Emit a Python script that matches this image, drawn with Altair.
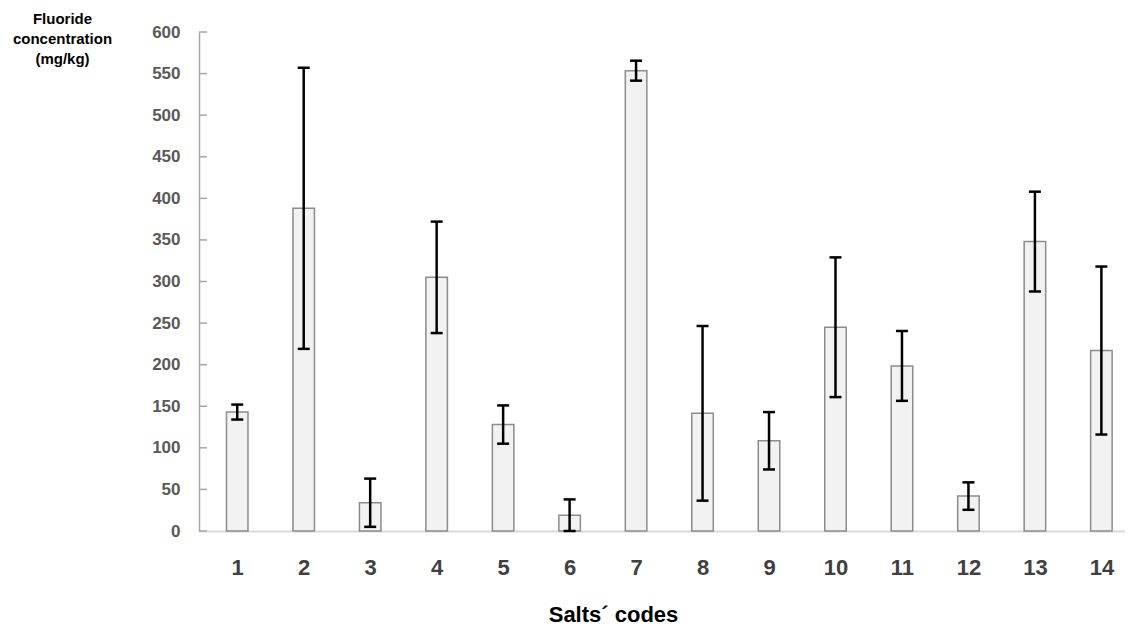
import altair as alt
import pandas as pd

codes = list(range(1, 15))
means = [143, 388, 34, 305, 128, 19, 553.5, 141.5, 108.5, 245, 198.5, 42, 348, 217]
errs = [9, 169, 29, 67, 23, 19, 12, 105, 34.5, 84, 42, 16.5, 60, 101]
y_ticks = list(range(0, 601, 50))

df = pd.DataFrame({"code": codes, "mean": means, "err": errs})
df["lo"] = (df["mean"] - df["err"]).clip(lower=0)
df["hi"] = df["mean"] + df["err"]
ticks_df = pd.DataFrame({"v": y_ticks})

FONT = "Liberation Sans"

xscale = alt.Scale(domain=[0.5, 14.28], nice=False, zero=False)
yscale = alt.Scale(domain=[0, 600], nice=False)

xaxis = alt.Axis(
    values=codes, format="d", ticks=False, grid=False,
    labelFont=FONT, labelFontSize=22, labelFontWeight="bold", labelColor="#404040",
    labelPadding=26, labelFlush=False,
    domainColor="#d9d9d9", domainWidth=2,
    title="Salts\u00b4 codes", titleFont=FONT, titleFontSize=22, titleFontWeight="bold",
    titleColor="#000000", titleX=414, titleY=90, titleAlign="center", titleBaseline="alphabetic",
)
yaxis = alt.Axis(
    values=y_ticks, ticks=False, grid=False,
    labelFont=FONT, labelFontSize=17, labelFontWeight="bold", labelColor="#595959",
    labelPadding=19,
    domainColor="#a6a6a6", domainWidth=1.5,
    title=["Fluoride", "concentration", "(mg/kg)"], titleFont=FONT, titleFontSize=15,
    titleFontWeight="bold", titleColor="#000000", titleAngle=0, titleAlign="center",
    titleBaseline="top", titleX=-137, titleY=-21, titleLineHeight=20,
)

bars = alt.Chart(df).mark_bar(size=21.5, fill="#f2f2f2", stroke="#8c8c8c", strokeWidth=1.5).encode(
    x=alt.X("code:Q", scale=xscale, axis=xaxis),
    y=alt.Y("mean:Q", scale=yscale, axis=yaxis),
)

inner_ticks = alt.Chart(ticks_df).mark_rule(color="#a6a6a6", strokeWidth=1.5).encode(
    x=alt.value(0), x2=alt.value(8), y=alt.Y("v:Q", scale=yscale)
)

err_lines = alt.Chart(df).mark_rule(color="#000000", strokeWidth=2.5).encode(
    x=alt.X("code:Q", scale=xscale), y=alt.Y("lo:Q", scale=yscale), y2="hi:Q"
)
cap_hi = alt.Chart(df).mark_tick(orient="horizontal", size=12, thickness=2.5, color="#000000", opacity=1).encode(
    x=alt.X("code:Q", scale=xscale), y=alt.Y("hi:Q", scale=yscale)
)
cap_lo = alt.Chart(df).mark_tick(orient="horizontal", size=12, thickness=2.5, color="#000000", opacity=1).encode(
    x=alt.X("code:Q", scale=xscale), y=alt.Y("lo:Q", scale=yscale)
)

chart = alt.layer(bars, inner_ticks, err_lines, cap_hi, cap_lo).properties(
    width=926, height=499,
    autosize=alt.AutoSizeParams(type="none"),
    padding={"left": 191, "top": 24, "right": 0, "bottom": 94},
    background="white",
).configure_view(stroke=None)

chart.save("out.html", embed_options={"renderer": "svg", "actions": False})
